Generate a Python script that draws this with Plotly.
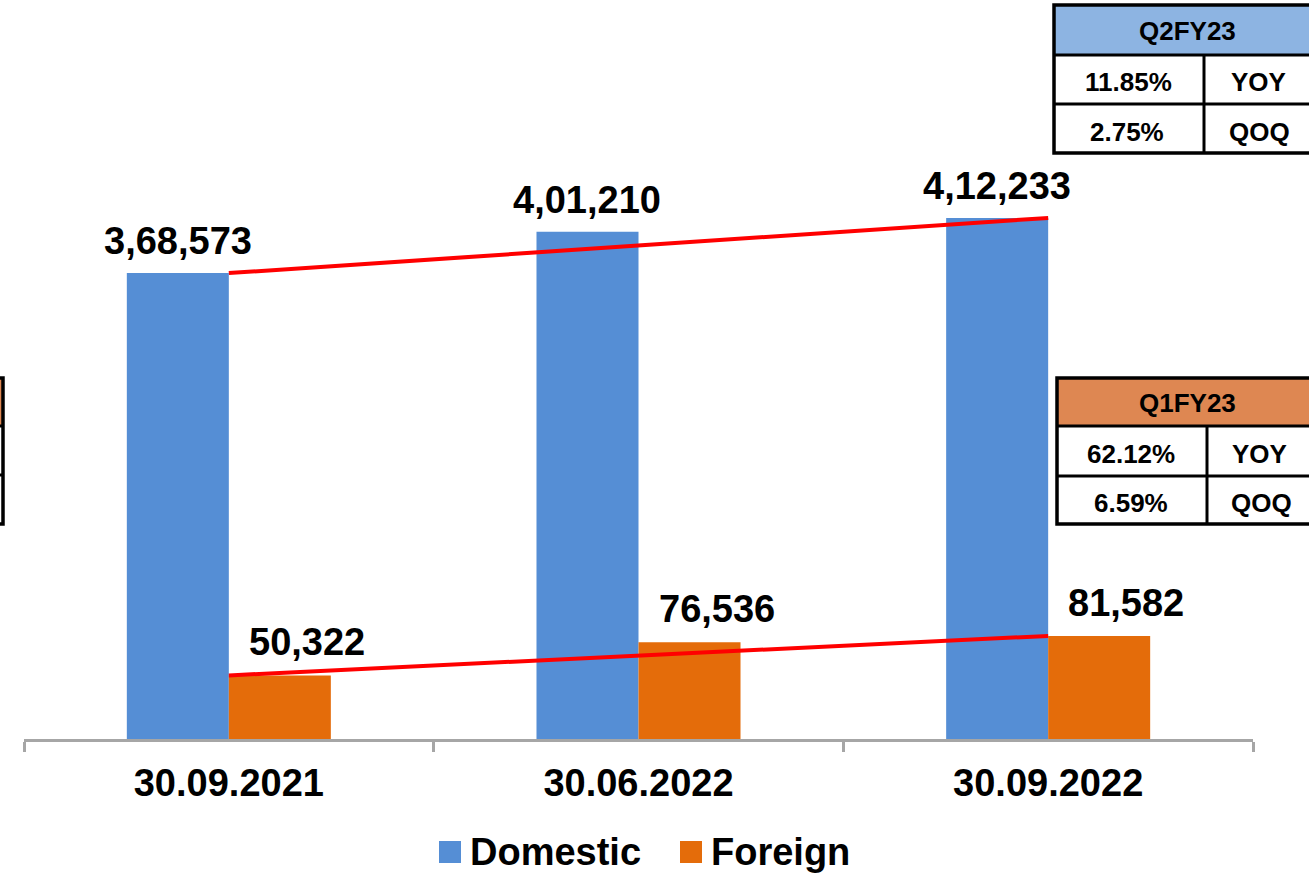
import plotly.graph_objects as go

# ---- data ----
dates = ["30.09.2021", "30.06.2022", "30.09.2022"]
domestic = [368573, 401210, 412233]
foreign = [50322, 76536, 81582]
domestic_labels = ["3,68,573", "4,01,210", "4,12,233"]
foreign_labels = ["50,322", "76,536", "81,582"]

table1_title = "Q2FY23"
table1_rows = [["11.85%", "YOY"], ["2.75%", "QOQ"]]
table2_title = "Q1FY23"
table2_rows = [["62.12%", "YOY"], ["6.59%", "QOQ"]]

BLUE = "#558ED5"
ORANGE = "#E46C0A"
HDR_BLUE = "#8DB4E2"
HDR_ORANGE = "#DE8752"

W, H = 1309, 873
L, R, T, B = 24, 56, 20, 134
PW, PH = W - L - R, H - T - B
BOTTOM = H - B


def px(x):
    return (x - L) / PW


def py(y):
    return (BOTTOM - y) / PH


FONT = "Arial, Liberation Sans, sans-serif"
NARROW = "Arial Narrow, Liberation Sans Narrow, Liberation Sans, Arial, sans-serif"

fig = go.Figure()
fig.add_trace(go.Bar(x=dates, y=domestic, name="Domestic", marker=dict(color=BLUE, line=dict(width=0)), showlegend=False))
fig.add_trace(go.Bar(x=dates, y=foreign, name="Foreign", marker=dict(color=ORANGE, line=dict(width=0)), showlegend=False))

fig.add_trace(go.Scatter(x=[dates[0], dates[-1]], y=[domestic[0], domestic[-1]], mode="lines",
                         line=dict(color="#FF0000", width=4), showlegend=False, hoverinfo="skip"))
fig.add_trace(go.Scatter(x=[dates[0], dates[-1]], y=[foreign[0], foreign[-1]], mode="lines",
                         line=dict(color="#FF0000", width=4), showlegend=False, hoverinfo="skip"))

annotations = []
for i in range(len(dates)):
    annotations.append(dict(x=i - 0.125, y=domestic[i], xref="x", yref="y", text=domestic_labels[i],
                            showarrow=False, yanchor="middle", yshift=32,
                            font=dict(family=FONT, size=38, color="black", weight="bold")))
    annotations.append(dict(x=i + 0.125, y=foreign[i], xref="x", yref="y", text=foreign_labels[i],
                            showarrow=False, yanchor="middle", yshift=33, xshift=27,
                            font=dict(family=FONT, size=38, color="black", weight="bold")))

shapes = []


def add_table(left, top, hdr_bottom, row_line, bottom, divider, right, hdr_color):
    shapes.append(dict(type="rect", xref="paper", yref="paper", x0=px(left), x1=px(right), y0=py(hdr_bottom), y1=py(top),
                       fillcolor=hdr_color, line=dict(width=0), layer="above"))
    shapes.append(dict(type="rect", xref="paper", yref="paper", x0=px(left), x1=px(right), y0=py(hdr_bottom), y1=py(bottom),
                       fillcolor="white", line=dict(width=0), layer="above"))
    for yy in (hdr_bottom, row_line):
        shapes.append(dict(type="line", xref="paper", yref="paper", x0=px(left), x1=px(right), y0=py(yy), y1=py(yy),
                           line=dict(color="black", width=3), layer="above"))
    if divider is not None:
        shapes.append(dict(type="line", xref="paper", yref="paper", x0=px(divider), x1=px(divider), y0=py(hdr_bottom), y1=py(bottom),
                           line=dict(color="black", width=3), layer="above"))
    shapes.append(dict(type="rect", xref="paper", yref="paper", x0=px(left), x1=px(right), y0=py(bottom), y1=py(top),
                       line=dict(color="black", width=3.5), layer="above"))


def table_text(text, x, y, size=26):
    annotations.append(dict(x=px(x), y=py(y), xref="paper", yref="paper", text=text, showarrow=False,
                            xanchor="center", yanchor="middle",
                            font=dict(family=NARROW, size=size, color="black", weight="bold")))


# top-right table
add_table(1054, 5, 55, 104, 153, 1204, 1330, HDR_BLUE)
table_text(table1_title, 1187, 31)
table_text(table1_rows[0][0], 1128, 82)
table_text(table1_rows[0][1], 1258, 82)
table_text(table1_rows[1][0], 1127, 132)
table_text(table1_rows[1][1], 1260, 132)

# middle-right table
add_table(1057, 378, 426, 476, 524, 1207, 1330, HDR_ORANGE)
table_text(table2_title, 1187, 403)
table_text(table2_rows[0][0], 1131, 454)
table_text(table2_rows[0][1], 1259, 454)
table_text(table2_rows[1][0], 1131, 503)
table_text(table2_rows[1][1], 1261, 503)

# partially visible table on the left edge
add_table(-200, 378, 426, 475, 524, None, 3, HDR_ORANGE)

# manual legend
for color, sq_left, txt, txt_left in [(BLUE, 439, "Domestic", 468), (ORANGE, 680, "Foreign", 709)]:
    shapes.append(dict(type="rect", xref="paper", yref="paper", x0=px(sq_left), x1=px(sq_left + 22),
                       y0=py(863), y1=py(841), fillcolor=color, line=dict(width=0)))
    annotations.append(dict(x=px(txt_left), y=py(852), xref="paper", yref="paper", text=txt, showarrow=False,
                            xanchor="left", yanchor="middle",
                            font=dict(family=FONT, size=38, color="black", weight="bold")))

fig.update_layout(
    width=W, height=H,
    margin=dict(l=L, r=R, t=T, b=B),
    plot_bgcolor="white", paper_bgcolor="white",
    barmode="group", bargap=0.502, bargroupgap=0,
    showlegend=False,
    annotations=annotations, shapes=shapes,
    xaxis=dict(type="category", showline=True, linecolor="#A6A6A6", linewidth=2.5,
               ticks="outside", tickson="boundaries", ticklen=10, tickwidth=2.5, tickcolor="#A6A6A6",
               ticklabelstandoff=9,
               tickfont=dict(family=FONT, size=38, color="black", weight="bold"),
               showgrid=False, zeroline=False),
    yaxis=dict(range=[0, 568800], visible=False, showgrid=False, zeroline=False),
)

fig.write_html("out.html", config={"displayModeBar": False},
               post_script="document.body.style.margin='0px';")
